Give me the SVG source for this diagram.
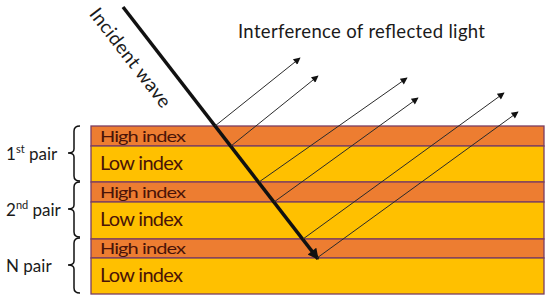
<svg xmlns="http://www.w3.org/2000/svg" width="550" height="301" viewBox="0 0 550 301">
<defs>
<style>
.hi{fill:#ED7D31;stroke:#7A3E62;stroke-width:1.3}
.lo{fill:#FFC000;stroke:#7A3E62;stroke-width:1.3}
.lt{font-family:Lato,"Open Sans",sans-serif;font-size:20px;fill:#4A1408}
.lb{font-family:Lato,"Open Sans",sans-serif;font-size:17px;fill:#1a1a1a}
.br{fill:none;stroke:#111;stroke-width:1.5}
.ref{stroke:#2a2a2a;stroke-width:1;fill:none;marker-end:url(#ah)}
</style>
<marker id="ah" viewBox="0 0 10 10" refX="9" refY="5" markerWidth="9" markerHeight="7" markerUnits="userSpaceOnUse" orient="auto">
<path d="M0,0 L10,5 L0,10 z" fill="#111"/>
</marker>
<marker id="ahb" viewBox="0 0 10 10" refX="9" refY="5" markerWidth="14" markerHeight="11" markerUnits="userSpaceOnUse" orient="auto">
<path d="M0,0 L10,5 L0,10 z" fill="#111"/>
</marker>
</defs>
<rect width="550" height="301" fill="#fff"/>
<g id="layers">
<g id="high1"><rect class="hi" x="91" y="126" width="453" height="20"/><text class="lt" transform="translate(100,142) scale(1,0.78)" textLength="86">High index</text></g>
<g id="low1"><rect class="lo" x="91" y="146" width="453" height="36"/><text class="lt" x="100" y="170" textLength="83">Low index</text></g>
<g id="high2"><rect class="hi" x="91" y="182" width="453" height="20"/><text class="lt" transform="translate(100,198) scale(1,0.78)" textLength="86">High index</text></g>
<g id="low2"><rect class="lo" x="91" y="202" width="453" height="37"/><text class="lt" x="100" y="226" textLength="83">Low index</text></g>
<g id="high3"><rect class="hi" x="91" y="239" width="453" height="19"/><text class="lt" transform="translate(100,254) scale(1,0.78)" textLength="86">High index</text></g>
<g id="low3"><rect class="lo" x="91" y="258" width="453" height="36"/><text class="lt" x="100" y="282" textLength="83">Low index</text></g>
</g>
<g id="pair1">
<path class="br" d="M80,126 Q74,126 74,131 L74,149 Q74,153 68,153 Q74,153 74,157 L74,176 Q74,181 80,181"/>
<text class="lb" x="6" y="160">1<tspan font-size="11" dy="-7">st</tspan><tspan dy="7"> pair</tspan></text>
</g>
<g id="pair2">
<path class="br" d="M80,182 Q74,182 74,187 L74,205 Q74,209 68,209 Q74,209 74,213 L74,232 Q74,237 80,237"/>
<text class="lb" x="6" y="216">2<tspan font-size="11" dy="-7">nd</tspan><tspan dy="7"> pair</tspan></text>
</g>
<g id="pairN">
<path class="br" d="M80,238 Q74,238 74,243 L74,261 Q74,265 68,265 Q74,265 74,269 L74,288 Q74,293 80,293"/>
<text class="lb" x="6" y="272">N pair</text>
</g>
<g id="connectors">
<line x1="123" y1="7" x2="318" y2="259" stroke="#111" stroke-width="3.5" marker-end="url(#ahb)"/>
<line class="ref" x1="215" y1="126" x2="300" y2="58"/>
<line class="ref" x1="231" y1="146" x2="318" y2="76"/>
<line class="ref" x1="259" y1="182" x2="407" y2="78"/>
<line class="ref" x1="274" y1="202" x2="418" y2="98"/>
<line class="ref" x1="303" y1="239" x2="504" y2="93"/>
<line class="ref" x1="317" y1="258" x2="518" y2="112"/>
</g>
<g id="incident-label">
<text class="lb" text-anchor="middle" textLength="120" transform="translate(125.3,61.7) rotate(52.3)" x="0" y="0" style="font-size:19px">Incident wave</text>
</g>
<g id="title">
<text class="lb" x="238" y="38" textLength="247" style="font-size:18.5px">Interference of reflected light</text>
</g>
</svg>
